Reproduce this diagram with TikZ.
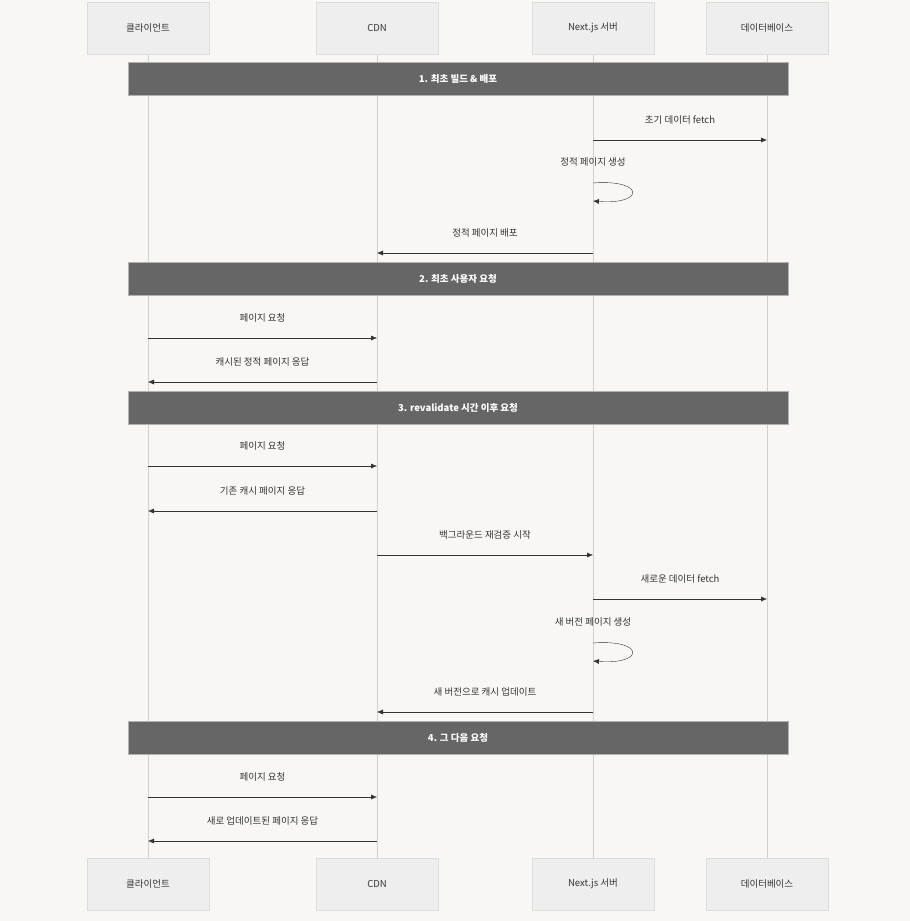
\documentclass[tikz,border=0pt]{standalone}
\usepackage{fontspec}
\setmainfont{Noto Sans CJK KR}
\usetikzlibrary{positioning,arrows.meta,calc}
\definecolor{bgpaper}{HTML}{F8F7F4}
\definecolor{actorfill}{HTML}{EEEEEE}
\definecolor{actorline}{HTML}{DCDCDC}
\definecolor{lifeline}{HTML}{D0D0D0}
\definecolor{sectfill}{HTML}{666666}
\definecolor{msgline}{HTML}{333333}
\tikzset{
  actor/.style={draw=actorline,fill=actorfill,minimum width=122pt,minimum height=52pt,font=\fontsize{9.5}{11}\selectfont,text=black!80},
  sect/.style={draw=black!30,fill=sectfill,minimum width=660pt,minimum height=33pt,font=\fontsize{9.5}{11}\selectfont\bfseries,text=white},
  msg/.style={draw=msgline,-{Latex[length=6pt,width=5pt]}},
  lbl/.style={font=\fontsize{9.5}{11}\selectfont,text=black!80}
}
\begin{document}
\begin{tikzpicture}[x=1pt,y=-1pt]
				\fill[bgpaper] (0,0) rectangle (910,921);
				\useasboundingbox (0,0) rectangle (910,921);
				% lifelines
				\foreach \n/\x in {cl/148,cdn/377,srv/593,db/767}{
					\draw[lifeline] (\x,54) -- (\x,858);
				}
				\node[actor] (clT) at (148,28) {클라이언트};
				\node[actor] (cdnT) at (377,28) {CDN};
				\node[actor] (srvT) at (593,28) {Next.js 서버};
				\node[actor] (dbT) at (767,28) {데이터베이스};
				\node[actor] (clB) at (148,884) {클라이언트};
				\node[actor] (cdnB) at (377,884) {CDN};
				\node[actor] (srvB) at (593,884) {Next.js 서버};
				\node[actor] (dbB) at (767,884) {데이터베이스};
				% sections
				\node[sect] (s1) at (458,78.5) {1. 최초 빌드 \& 배포};
				\node[sect] (s2) at (458,278.5) {2. 최초 사용자 요청};
				\node[sect] (s3) at (458,407.5) {3. revalidate 시간 이후 요청};
				\node[sect] (s4) at (458,737.5) {4. 그 다음 요청};
				% messages
				\foreach \y/\a/\b/\t in {
					140/593/767/초기 데이터 fetch,
					253/593/377/정적 페이지 배포,
					338/148/377/페이지 요청,
					382/377/148/캐시된 정적 페이지 응답,
					466/148/377/페이지 요청,
					511/377/148/기존 캐시 페이지 응답,
					555/377/593/백그라운드 재검증 시작,
					599/593/767/새로운 데이터 fetch,
					712/593/377/새 버전으로 캐시 업데이트,
					797/148/377/페이지 요청,
					841/377/148/새로 업데이트된 페이지 응답}{
					\coordinate (m1) at (\a,\y);
					\coordinate (m2) at (\b,\y);
					\draw[msg] (m1) -- (m2);
					\node[lbl] at ($(m1)!0.5!(m2)+(0,-20)$) {\t};
				}
				% self messages
				\foreach \y/\t in {183/정적 페이지 생성,643/새 버전 페이지 생성}{
					\coordinate (l1) at (593,\y);
					\coordinate (l2) at (593,\y+18);
					\draw[msg] (l1) .. controls (645,\y-4) and (645,\y+22) .. (l2);
					\node[lbl] at (593,\y-21) {\t};
				}
			\end{tikzpicture}
\end{document}
